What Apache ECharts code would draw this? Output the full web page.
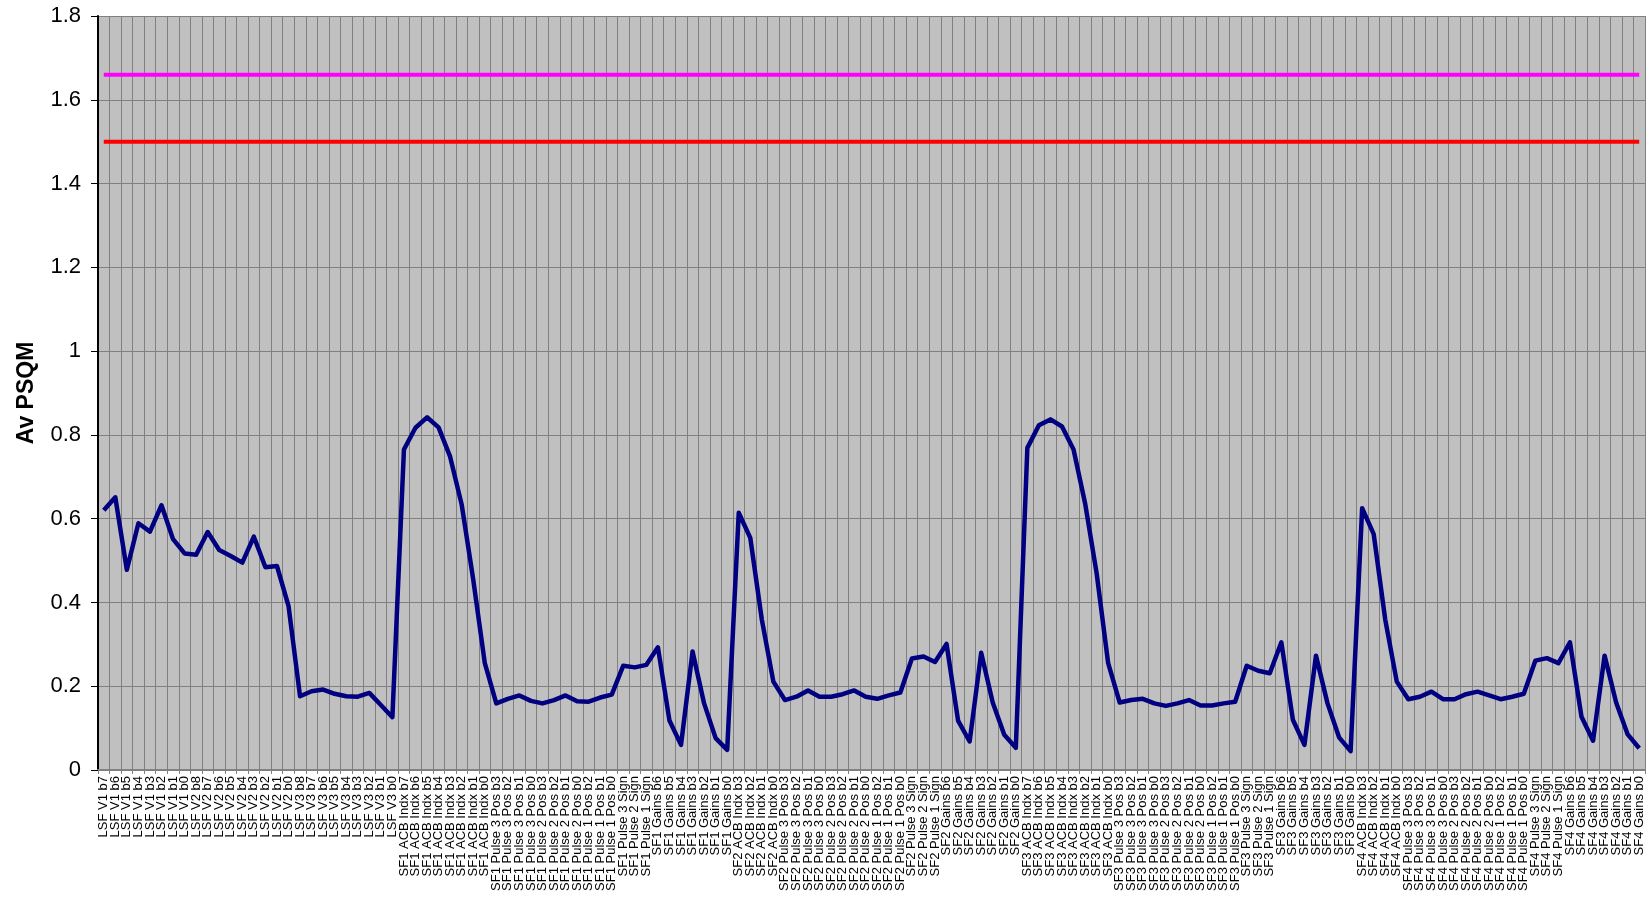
<!DOCTYPE html>
<html>
<head>
<meta charset="utf-8">
<script src="https://cdn.jsdelivr.net/npm/echarts@6/dist/echarts.min.js"></script>
<style>
html,body{margin:0;padding:0;background:#fff;}
#c{width:1648px;height:899px;}
</style>
</head>
<body>
<div id="c"></div>
<script>
function bits(prefix, hi, lo){var a=[];for(var b=hi;b>=lo;b--)a.push(prefix+' b'+b);return a;}
function sf(n, acbHi){
  var s='SF'+n;
  return [].concat(
    bits(s+' ACB Indx',acbHi,0),
    bits(s+' Pulse 3 Pos',3,0),
    bits(s+' Pulse 2 Pos',3,0),
    bits(s+' Pulse 1 Pos',2,0),
    [s+' Pulse 3 Sign',s+' Pulse 2 Sign',s+' Pulse 1 Sign'],
    bits(s+' Gains',6,0));
}
var categories = [].concat(
  bits('LSF V1',7,0), bits('LSF V2',8,0), bits('LSF V3',8,0),
  sf(1,7), sf(2,3), sf(3,7), sf(4,3));

var lsfValues = [0.620,0.651,0.478,0.589,0.569,0.632,0.551,0.517,
  0.514,0.568,0.525,0.511,0.495,0.557,0.484,0.487,0.392,
  0.176,0.188,0.192,0.182,0.176,0.175,0.184,0.155,0.126];
var sf1Values = [0.765,0.817,0.842,0.818,0.748,0.634,0.455,0.256,
  0.159,0.170,0.178,0.165, 0.159,0.167,0.178,0.164, 0.163,0.173,0.180,
  0.249,0.245,0.251, 0.293,0.118,0.060,0.283,0.159,0.076,0.048];
var sf2Values = [0.614,0.554,0.359,0.211,
  0.167,0.175,0.190,0.175, 0.175,0.181,0.190,0.175, 0.170,0.178,0.185,
  0.266,0.271,0.258, 0.301,0.118,0.068,0.280,0.161,0.084,0.053];
var sf3Values = [0.769,0.823,0.837,0.820,0.765,0.637,0.470,0.255,
  0.161,0.167,0.170,0.159, 0.153,0.159,0.167,0.154, 0.154,0.159,0.163,
  0.249,0.237,0.231, 0.305,0.120,0.060,0.273,0.159,0.078,0.045];
var sf4Values = [0.625,0.563,0.359,0.211,
  0.169,0.175,0.187,0.169, 0.169,0.181,0.187,0.178, 0.169,0.175,0.182,
  0.261,0.267,0.255, 0.305,0.127,0.070,0.273,0.161,0.085,0.052];
var avPsqm = [].concat(lsfValues, sf1Values, sf2Values, sf3Values, sf4Values);

var upperLimit = 1.66;
var lowerLimit = 1.5;

var yTicks = {min:0, max:1.8, interval:0.2};

var chart = echarts.init(document.getElementById('c'), null, {renderer:'canvas'});
chart.setOption({
  animation:false,
  backgroundColor:'#ffffff',
  grid:{left:98,right:3,top:16,bottom:129,show:true,backgroundColor:'#C0C0C0',borderWidth:0},
  xAxis:{
    type:'category', data:categories, boundaryGap:true,
    axisLine:{show:true,lineStyle:{color:'#808080',width:2}},
    axisTick:{show:true,interval:0,length:4,lineStyle:{color:'#808080'}},
    axisLabel:{interval:0,rotate:90,fontFamily:'Liberation Sans, Arial, sans-serif',fontSize:13,color:'#000',margin:6},
    splitLine:{show:true,interval:0,lineStyle:{color:'#808080',width:1}}
  },
  yAxis:{
    type:'value', min:yTicks.min, max:yTicks.max, interval:yTicks.interval,
    name:'Av PSQM', nameLocation:'middle', nameGap:60,
    nameTextStyle:{fontFamily:'Liberation Sans, Arial, sans-serif',fontSize:23,fontWeight:'bold',color:'#000'},
    axisLine:{show:true,lineStyle:{color:'#000',width:2}},
    axisTick:{show:true,length:7,lineStyle:{color:'#000'}},
    axisLabel:{fontFamily:'Liberation Sans, Arial, sans-serif',fontSize:22,color:'#000',margin:17,
      formatter:function(v){return String(Math.round(v*10)/10);}},
    splitLine:{show:true,lineStyle:{color:'#808080',width:1}}
  },
  series:[
    {type:'line',name:'Upper',data:categories.map(function(){return upperLimit;}),showSymbol:false,symbol:'none',
     lineStyle:{color:'#FF00FF',width:4}},
    {type:'line',name:'Lower',data:categories.map(function(){return lowerLimit;}),showSymbol:false,symbol:'none',
     lineStyle:{color:'#FF0000',width:4}},
    {type:'line',name:'Av PSQM',data:avPsqm,showSymbol:false,symbol:'none',
     lineStyle:{color:'#000080',width:4.5,join:'round'}}
  ]
});
</script>
</body>
</html>
